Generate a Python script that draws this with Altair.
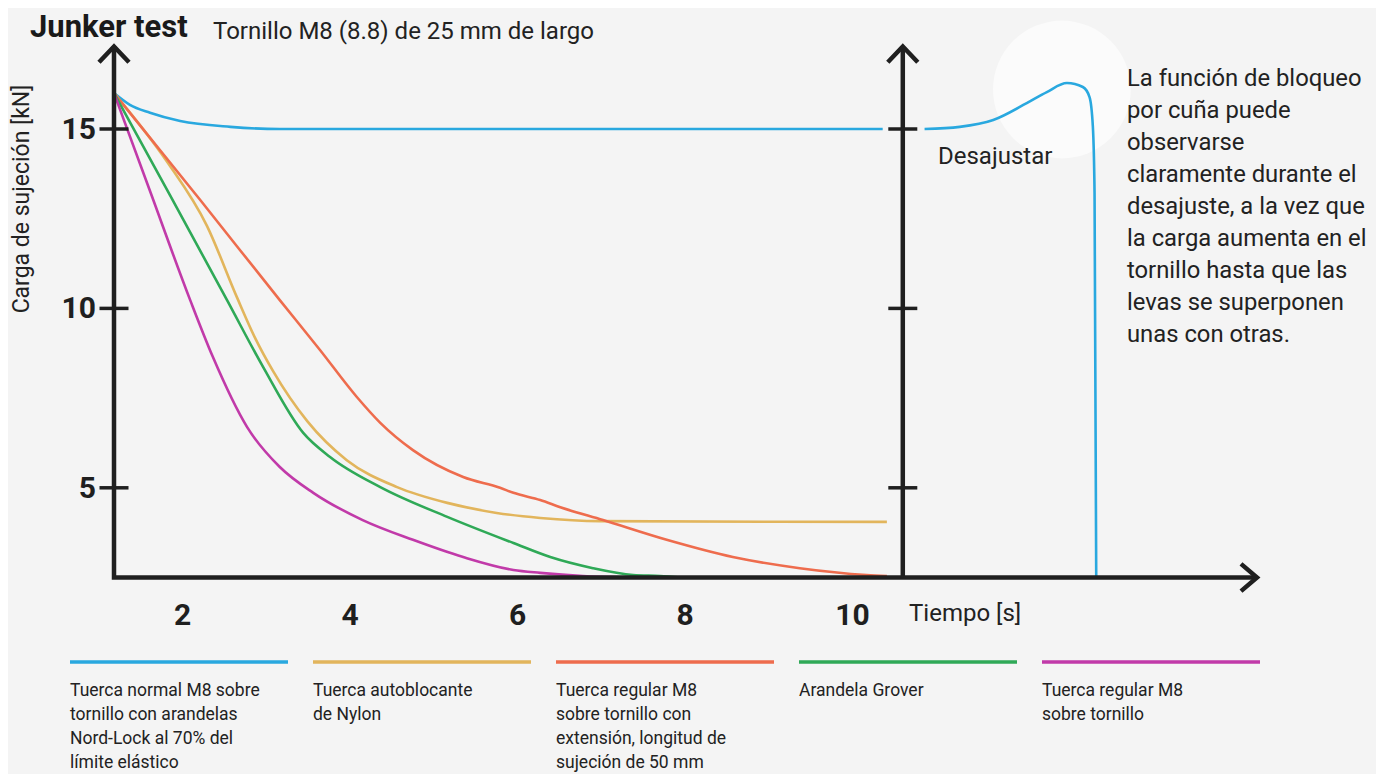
import altair as alt
import pandas as pd

# ---------------- data ----------------
series_keys = ["nordlock", "nylon", "extension", "grover", "regular"]
series_colors = ["#29a8df", "#e2b55c", "#ee6c4d", "#2fa957", "#c13aa9"]
legend_labels = [
    "Tuerca normal M8 sobre\ntornillo con arandelas\nNord-Lock al 70% del\nlímite elástico",
    "Tuerca autoblocante\nde Nylon",
    "Tuerca regular M8\nsobre tornillo con\nextensión, longitud de\nsujeción de 50 mm",
    "Arandela Grover",
    "Tuerca regular M8\nsobre tornillo",
]

# time [s] / clamp load [kN]
nordlock_x = [1.18, 1.37, 1.61, 1.97, 2.57, 3.16, 6.0, 10.36]
nordlock_y = [16.0, 15.67, 15.45, 15.22, 15.06, 15.0, 15.0, 15.0]
unload_x = [10.86, 11.28, 11.68, 12.08, 12.32, 12.56, 12.75, 12.83, 12.87, 12.89, 12.91]
unload_y = [15.0, 15.06, 15.25, 15.72, 16.03, 16.28, 16.17, 15.89, 15.06, 13.22, 2.5]
nylon_x = [1.18, 1.81, 2.29, 2.65, 2.86, 3.08, 3.49, 3.96, 4.56, 5.16, 5.75, 6.27, 6.98, 10.41]
nylon_y = [16.0, 14.1, 12.3, 10.3, 9.2, 8.25, 6.85, 5.77, 5.02, 4.58, 4.30, 4.16, 4.07, 4.05]
extension_x = [1.18, 2.21, 3.16, 3.64, 4.08, 4.36, 4.75, 5.35, 5.79, 5.95, 6.27, 6.51, 7.02, 7.78, 8.57, 9.37, 10.17, 10.41]
extension_y = [16.0, 13.02, 10.23, 8.84, 7.53, 6.81, 6.05, 5.30, 5.00, 4.86, 4.66, 4.46, 4.10, 3.55, 3.07, 2.76, 2.57, 2.54]
grover_x = [1.18, 1.85, 2.53, 2.96, 3.44, 3.76, 4.36, 5.16, 5.95, 6.39, 6.90, 7.38, 7.70, 7.95]
grover_y = [16.0, 13.15, 10.23, 8.37, 6.53, 5.86, 5.02, 4.19, 3.46, 3.07, 2.76, 2.57, 2.54, 2.5]
regular_x = [1.18, 1.61, 2.09, 2.36, 2.77, 3.16, 3.56, 4.15, 4.75, 5.35, 5.95, 6.27, 6.78, 7.3]
regular_y = [16.0, 13.27, 10.23, 8.65, 6.69, 5.58, 4.86, 4.10, 3.55, 3.07, 2.71, 2.63, 2.54, 2.5]

x_ticks = [2, 4, 6, 8, 10]
y_ticks = [5, 10, 15]

annotation = ("La función de bloqueo\npor cuña puede\nobservarse\nclaramente durante el\n"
              "desajuste, a la vez que\nla carga aumenta en el\ntornillo hasta que las\n"
              "levas se superponen\nunas con otras.")

# ---------------- layout / style constants ----------------
X_MIN, X_MAX = 1.18, 14.83      # axis origin .. arrow tip (time)
Y_MIN, Y_MAX = 2.5, 17.55       # load
Y_TIP = 17.3
X_UNLOAD = 10.6                 # second (unloading) vertical axis
W, H = 1143, 540
AX = "#1f1f1f"
BG = "#f4f4f4"
FONT = "Roboto"

xs = alt.Scale(domain=[X_MIN, X_MAX], nice=False, zero=False)
ys = alt.Scale(domain=[Y_MIN, Y_MAX], nice=False, zero=False)
cscale = alt.Scale(domain=series_keys, range=series_colors)

rows = []
def add(key, seg, xv, yv):
    for i, (a, b) in enumerate(zip(xv, yv)):
        rows.append({"series": key, "segment": seg, "i": i, "x": a, "y": b})

add("nordlock", "nordlock", nordlock_x, nordlock_y)
add("nordlock", "unload", unload_x, unload_y)
add("nylon", "nylon", nylon_x, nylon_y)
add("extension", "extension", extension_x, extension_y)
add("grover", "grover", grover_x, grover_y)
add("regular", "regular", regular_x, regular_y)
curves_df = pd.DataFrame(rows)

X = lambda f="x": alt.X(f"{f}:Q", scale=xs, axis=None)
Y = lambda f="y": alt.Y(f"{f}:Q", scale=ys, axis=None)

# faint white glow behind the unloading peak
glow = alt.Chart(pd.DataFrame({"x": [12.5], "y": [16.1]})).mark_circle(
    size=19000, color="white", opacity=0.6).encode(x=X(), y=Y())

curves = alt.Chart(curves_df).mark_line(
    strokeWidth=2.6, interpolate="monotone").encode(
    x=X(), y=Y(),
    color=alt.Color("series:N", scale=cscale, legend=None),
    detail="segment:N", order="i:Q")

# axes drawn as polylines
axis_df = pd.DataFrame([
    {"g": "main", "i": 0, "x": X_MIN, "y": Y_TIP},
    {"g": "main", "i": 1, "x": X_MIN, "y": Y_MIN},
    {"g": "main", "i": 2, "x": X_MAX, "y": Y_MIN},
    {"g": "unload", "i": 0, "x": X_UNLOAD, "y": Y_MIN},
    {"g": "unload", "i": 1, "x": X_UNLOAD, "y": Y_TIP},
])
axes = alt.Chart(axis_df).mark_line(
    strokeWidth=4.5, color=AX, strokeJoin="miter", strokeCap="butt").encode(
    x=X(), y=Y(), detail="g:N", order="i:Q")

up_df = pd.DataFrame({"x": [X_MIN, X_UNLOAD], "y": [Y_TIP, Y_TIP]})
up_arrows = alt.Chart(up_df).mark_point(
    shape="M-1,1.05L0,0L1,1.05", size=900, filled=False, strokeWidth=4.5,
    color=AX, opacity=1, strokeJoin="miter").encode(x=X(), y=Y())
right_arrow = alt.Chart(pd.DataFrame({"x": [X_MAX], "y": [Y_MIN]})).mark_point(
    shape="M-1,-0.85L0,0L-1,0.85", size=1024, filled=False, strokeWidth=4.5,
    color=AX, opacity=1, strokeJoin="miter").encode(x=X(), y=Y())

tick_df = pd.DataFrame([{"x": ax, "y": v} for ax in (X_MIN, X_UNLOAD) for v in y_ticks])
ticks = alt.Chart(tick_df).mark_point(
    shape="M-1,0L1,0", size=841, filled=False, strokeWidth=3.5,
    color=AX, opacity=1).encode(x=X(), y=Y())

ylab = alt.Chart(pd.DataFrame({"v": y_ticks, "x": [X_MIN] * len(y_ticks)})).mark_text(
    font=FONT, fontWeight="bold", fontSize=30, color=AX, align="right",
    baseline="middle", dx=-18, dy=1).encode(x=X(), y=Y("v"), text="v:Q")
xlab = alt.Chart(pd.DataFrame({"v": x_ticks, "y": [Y_MIN] * len(x_ticks)})).mark_text(
    font=FONT, fontWeight="bold", fontSize=30, color=AX, align="center",
    baseline="middle", dy=38).encode(x=X("v"), y=Y(), text="v:Q")

def label(txt, x, y, **kw):
    return alt.Chart(pd.DataFrame({"t": [txt]})).mark_text(**kw).encode(
        text="t:N", x=alt.value(x), y=alt.value(y))

title1 = label("Junker test", -84, -0.5, font=FONT, fontWeight="bold", fontSize=31,
               color="#1a1a1a", align="left", baseline="alphabetic")
title2 = label("Tornillo M8 (8.8) de 25 mm de largo", 99, 1.5, font=FONT, fontSize=24,
               color="#222222", align="left", baseline="alphabetic")
ytitle = label("Carga de sujeción [kN]", -92, 161.5, font=FONT, fontSize=23,
               color="#222222", align="center", baseline="middle", angle=270)
xtitle = label("Tiempo [s]", 795, 576.5, font=FONT, fontSize=24,
               color="#222222", align="left", baseline="middle")
unload_lbl = label("Desajustar", 824, 119.5, font=FONT, fontSize=24,
                   color="#222222", align="left", baseline="middle")
note = label(annotation, 1013, 41, font=FONT, fontSize=23.8, color="#222222",
             align="left", baseline="middle", lineBreak="\n", lineHeight=32)

# custom legend below the chart
LEG_X0, LEG_STEP, LEG_W = -44, 243, 218
leg_df = pd.DataFrame({"series": series_keys, "label": legend_labels, "k": range(5)})
leg_df["lx"] = LEG_X0 + leg_df["k"] * LEG_STEP
leg_df["lx2"] = leg_df["lx"] + LEG_W
leg_lines = alt.Chart(leg_df).mark_rule(strokeWidth=3.5).encode(
    x=alt.X("lx:Q", scale=None), x2="lx2:Q", y=alt.value(624.5),
    color=alt.Color("series:N", scale=cscale, legend=None))
leg_text = alt.Chart(leg_df).mark_text(
    font=FONT, fontSize=17.5, color="#222222", align="left", baseline="middle",
    lineBreak="\n", lineHeight=24).encode(
    x=alt.X("lx:Q", scale=None), y=alt.value(653), text="label:N")

chart = alt.layer(
    glow, curves, axes, up_arrows, right_arrow, ticks, ylab, xlab,
    title1, title2, ytitle, xtitle, unload_lbl, note, leg_lines, leg_text
).properties(
    width=W, height=H,
    autosize=alt.AutoSizeParams(type="none"),
    padding={"left": 106, "top": 29.5, "right": 119, "bottom": 196},
    background=BG,
).configure_view(stroke=None)

chart.save("out.html", embed_options={"renderer": "svg", "actions": False})
